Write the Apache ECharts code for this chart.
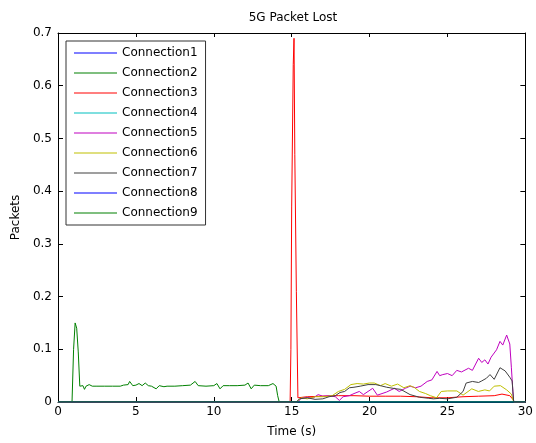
<!DOCTYPE html>
<html>
<head>
<meta charset="utf-8">
<script src="https://cdn.jsdelivr.net/npm/echarts@6/dist/echarts.min.js"></script>
<style>
html,body{margin:0;padding:0;background:#fff;}
#chart{width:536px;height:443px;}
</style>
</head>
<body>
<div id="chart"></div>
<script>
// ---- data ----
var seriesNames = ['Connection1','Connection2','Connection3','Connection4','Connection5','Connection6','Connection7','Connection8','Connection9'];
var xTicks = [0, 5, 10, 15, 20, 25, 30];
var yTicks = [0, 0.1, 0.2, 0.3, 0.4, 0.5, 0.6, 0.7];

var t1 = [0, 30];
var v1 = [0, 0];

var t2 = [0, 0.9, 1.0, 1.1, 1.2, 1.3, 1.4, 1.5, 1.6, 1.7, 1.8, 1.9, 2.0, 2.2, 2.5, 3.0, 3.5, 4.0, 4.2, 4.3, 4.5, 4.6, 4.8, 5.0, 5.2, 5.4, 5.6, 5.8, 6.0, 6.3, 6.5, 6.8, 7.0, 7.5, 8.0, 8.5, 8.8, 9.0, 9.5, 10.0, 10.2, 10.4, 10.6, 11.0, 11.5, 12.0, 12.2, 12.4, 12.6, 13.0, 13.5, 13.8, 14.0, 14.1, 14.2, 30];
var v2 = [0, 0, 0.10, 0.15, 0.14, 0.095, 0.03, 0.028, 0.031, 0.024, 0.03, 0.027, 0.033, 0.03, 0.03, 0.03, 0.03, 0.03, 0.032, 0.035, 0.033, 0.039, 0.031, 0.032, 0.035, 0.031, 0.036, 0.031, 0.03, 0.025, 0.031, 0.029, 0.03, 0.03, 0.031, 0.032, 0.039, 0.031, 0.03, 0.031, 0.035, 0.025, 0.031, 0.031, 0.031, 0.032, 0.036, 0.025, 0.032, 0.031, 0.031, 0.035, 0.03, 0.012, 0, 0];

var t3 = [0, 14.9, 14.95, 15.0, 15.1, 15.15, 15.2, 15.3, 15.4, 16, 17, 18, 19, 20, 21, 22, 23, 24, 25, 26, 27, 28, 28.5, 29, 29.2, 29.3, 30];
var v3 = [0, 0, 0.1, 0.37, 0.64, 0.69, 0.47, 0.21, 0.008, 0.01, 0.011, 0.012, 0.012, 0.011, 0.011, 0.011, 0.01, 0.008, 0.008, 0.01, 0.011, 0.012, 0.015, 0.012, 0.005, 0, 0];

var t4 = [0, 30];
var v4 = [0, 0];

var t5 = [0, 15.4, 15.6, 16.0, 16.4, 16.7, 17.0, 17.4, 17.8, 18.06, 18.3, 18.7, 19.0, 19.34, 19.6, 19.9, 20.2, 20.5, 21.1, 21.6, 21.9, 22.3, 22.6, 22.95, 23.3, 23.7, 24.0, 24.33, 24.5, 24.7, 25.0, 25.3, 25.6, 25.9, 26.35, 26.6, 27.0, 27.2, 27.4, 27.6, 27.8, 28.15, 28.37, 28.55, 28.8, 29.0, 29.1, 29.2, 29.25, 30];
var v5 = [0, 0, 0.007, 0.008, 0.008, 0.014, 0.011, 0.012, 0.01, 0.003, 0.01, 0.012, 0.016, 0.02, 0.014, 0.02, 0.026, 0.013, 0.019, 0.026, 0.02, 0.026, 0.03, 0.027, 0.03, 0.039, 0.042, 0.058, 0.05, 0.052, 0.054, 0.05, 0.06, 0.057, 0.064, 0.06, 0.083, 0.075, 0.08, 0.072, 0.085, 0.099, 0.115, 0.108, 0.127, 0.11, 0.066, 0.02, 0, 0];

var t6 = [0, 15.3, 15.6, 16.0, 16.5, 17.1, 17.6, 18.0, 18.4, 18.8, 19.2, 19.6, 20.0, 20.3, 20.7, 21.0, 21.4, 21.8, 22.2, 22.6, 22.9, 23.2, 23.6, 23.9, 24.3, 24.6, 25.0, 25.6, 26.0, 26.56, 26.98, 27.4, 27.7, 28.0, 28.4, 28.8, 29.1, 29.25, 30];
var v6 = [0, 0, 0.008, 0.006, 0.01, 0.01, 0.012, 0.02, 0.024, 0.033, 0.035, 0.034, 0.036, 0.036, 0.031, 0.035, 0.03, 0.034, 0.027, 0.031, 0.027, 0.02, 0.016, 0.012, 0.008, 0.02, 0.021, 0.021, 0.013, 0.025, 0.02, 0.023, 0.021, 0.03, 0.031, 0.023, 0.015, 0, 0];

var t7 = [0, 15.3, 15.5, 16.0, 16.5, 17.0, 17.4, 17.8, 18.1, 18.4, 18.7, 19.0, 19.4, 19.9, 20.4, 20.7, 21.1, 21.7, 22.0, 22.6, 23.2, 23.8, 24.1, 24.5, 25.0, 25.6, 26.0, 26.2, 26.6, 27.0, 27.2, 27.5, 27.73, 28.0, 28.37, 28.7, 29.0, 29.15, 29.25, 30];
var v7 = [0, 0, 0.006, 0.008, 0.005, 0.006, 0.01, 0.012, 0.018, 0.02, 0.027, 0.028, 0.03, 0.033, 0.033, 0.031, 0.028, 0.025, 0.024, 0.014, 0.009, 0.007, 0.006, 0.007, 0.006, 0.009, 0.02, 0.036, 0.039, 0.037, 0.04, 0.045, 0.052, 0.043, 0.065, 0.059, 0.047, 0.04, 0, 0];

var t8 = [0, 30];
var v8 = [0, 0];

var t9 = [0, 30];
var v9 = [0, 0];

var seriesColors = ['#0000ff', '#008000', '#ff0000', '#00bfbf', '#bf00bf', '#bfbf00', '#404040', '#0000ff', '#008000'];
var allT = [t1, t2, t3, t4, t5, t6, t7, t8, t9];
var allV = [v1, v2, v3, v4, v5, v6, v7, v8, v9];

// ---- chart ----
var FONT = 'DejaVu Sans';
var chart = echarts.init(document.getElementById('chart'), null, {renderer: 'canvas'});

function pairs(t, v) {
  var out = [];
  for (var i = 0; i < t.length; i++) out.push([t[i], v[i]]);
  return out;
}

var series = seriesNames.map(function (name, i) {
  return {
    name: name,
    type: 'line',
    xAxisIndex: 0,
    yAxisIndex: 0,
    data: pairs(allT[i], allV[i]),
    symbol: 'none',
    showSymbol: false,
    lineStyle: {width: 1, color: seriesColors[i]},
    itemStyle: {color: seriesColors[i]},
    animation: false,
    z: 2 + i
  };
});

var axisCommon = {
  axisLine: {show: true, onZero: false, lineStyle: {color: '#000', width: 1}},
  splitLine: {show: false}
};

var legendData = seriesNames.map(function (name, i) {
  return {name: name, icon: 'rect', itemStyle: {color: seriesColors[i], borderWidth: 0}};
});

var option = {
  backgroundColor: '#fff',
  animation: false,
  title: {
    text: '5G Packet Lost',
    left: 293, textAlign: 'center',
    top: 12,
    padding: 0,
    textStyle: {fontFamily: FONT, fontSize: 12, fontWeight: 'normal', color: '#000'}
  },
  grid: {left: 58, right: 7, top: 33, bottom: 39, containLabel: false},
  legend: {
    orient: 'vertical',
    left: 66, top: 41,
    padding: [5, 8, 5, 8],
    itemGap: 6,
    itemWidth: 43,
    itemHeight: 1,
    icon: 'rect',
    borderColor: '#333',
    borderWidth: 1,
    borderRadius: 0,
    backgroundColor: '#fff',
    data: legendData,
    selectedMode: false,
    textStyle: {fontFamily: FONT, fontSize: 12, color: '#000', lineHeight: 14, height: 14, padding: [0, 0, 0, 0]}
  },
  xAxis: [
    Object.assign({
      type: 'value', position: 'bottom', min: 0, max: 30, interval: 5,
      name: 'Time (s)', nameLocation: 'middle', nameGap: 24,
      nameTextStyle: {fontFamily: FONT, fontSize: 12, color: '#000'},
      axisTick: {show: true, inside: true, length: 5, lineStyle: {color: '#000'}},
      axisLabel: {show: true, margin: 4, fontFamily: FONT, fontSize: 12, color: '#000',
        formatter: function (v) { return xTicks.indexOf(v) >= 0 ? String(v) : ''; }}
    }, axisCommon),
    Object.assign({
      type: 'value', position: 'top', min: 0, max: 30, interval: 5,
      axisTick: {show: true, inside: true, length: 4, lineStyle: {color: '#000'}},
      axisLabel: {show: false}
    }, axisCommon)
  ],
  yAxis: [
    Object.assign({
      type: 'value', position: 'left', min: 0, max: 0.7, interval: 0.1,
      name: 'Packets', nameLocation: 'middle', nameGap: 35, nameRotate: 90,
      nameTextStyle: {fontFamily: FONT, fontSize: 12, color: '#000'},
      axisTick: {show: true, inside: true, length: 5, lineStyle: {color: '#000'}},
      axisLabel: {show: true, margin: 6, fontFamily: FONT, fontSize: 12, color: '#000',
        formatter: function (v) {
          var r = Math.round(v * 10) / 10;
          return yTicks.indexOf(r) >= 0 ? String(r) : '';
        }}
    }, axisCommon),
    Object.assign({
      type: 'value', position: 'right', min: 0, max: 0.7, interval: 0.1,
      axisTick: {show: true, inside: true, length: 5, lineStyle: {color: '#000'}},
      axisLabel: {show: false}
    }, axisCommon)
  ],
  series: series
};

chart.setOption(option);
</script>
</body>
</html>
